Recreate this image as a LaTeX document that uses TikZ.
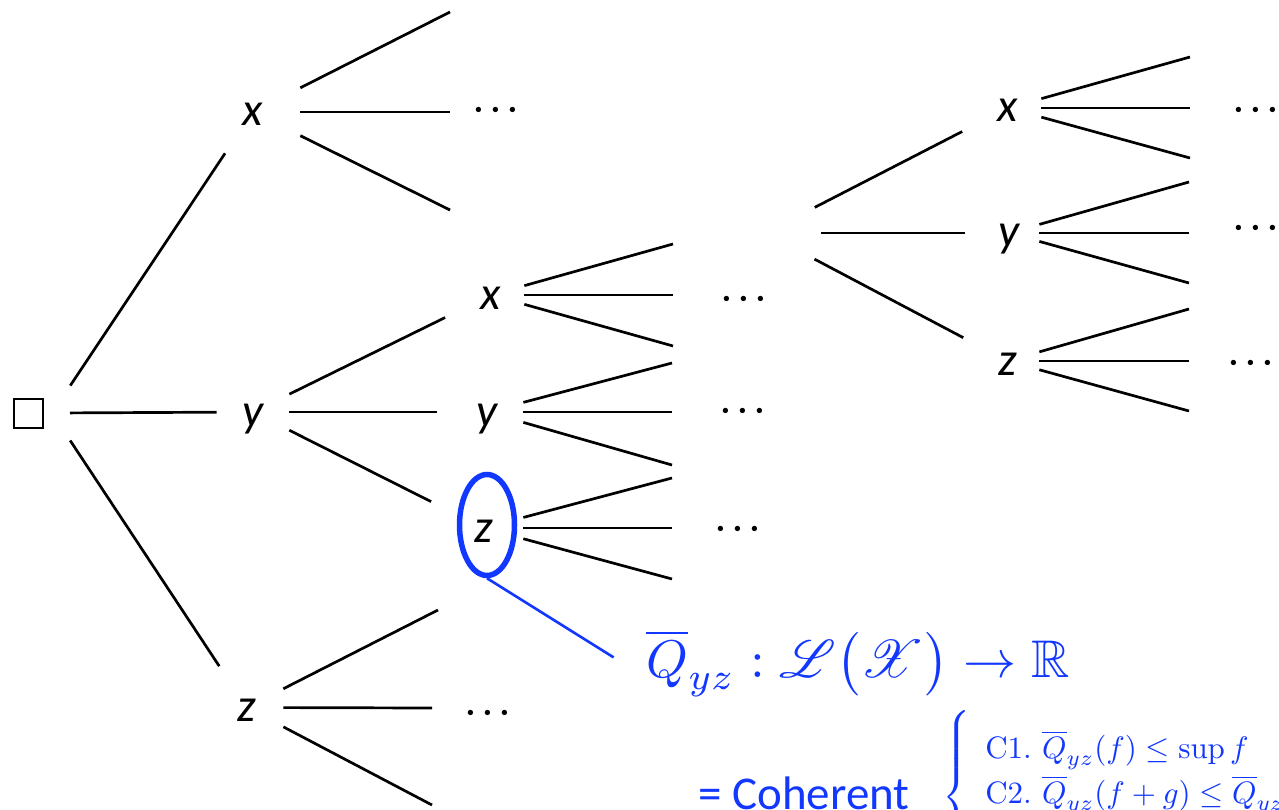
\documentclass[tikz,border=0pt]{standalone}
\usepackage{fontspec}
\usepackage{graphicx}
\usepackage{amssymb}
\usepackage{mathrsfs}
\newfontfamily\calibri{Carlito}
\usetikzlibrary{shapes.geometric}
\definecolor{cblue}{HTML}{1238FF}
\tikzset{
  every picture/.style={x=1pt, y=-1pt, line width=2.7pt},
  lab/.style={font=\fontsize{47}{50}\selectfont\calibri\itshape, inner sep=0pt,
    minimum width=#1, minimum height=80pt, text height=28pt, text depth=0pt},
  lab/.default=70pt,
  etc/.style={inner sep=0pt, text height=18pt, text depth=0pt},
  edge/.style={draw=black},
  into/.style={edge, shorten >=14pt},
  ring/.style={draw=cblue, ellipse, line width=5.5pt, minimum width=55pt, minimum height=101pt, inner sep=0pt},
  callout/.style={draw=cblue, line width=2.6pt},
  formula/.style={text=cblue, inner sep=0pt},
}

\begin{document}
\begin{tikzpicture}
  \useasboundingbox (0,0) rectangle (1279,810);
  \fill[white] (0,0) rectangle (1279,810);
  \clip (0,0) rectangle (1279,810);

  % decision tree
  \node[draw, line width=2pt, minimum size=29pt, inner sep=0pt, outer xsep=9pt] (root) at (28.5,413) {};
  \node[lab=93pt] (x1) at (252.5,112) {x};
  \node[lab=70pt] (y1) at (253,412) {y};
  \node[lab=71pt] (z1) at (246.5,707.5) {z};
  \node[lab=64pt] (x2) at (491,295) {x};
  \node[lab=70pt] (y2) at (487,412) {y};
  \node[lab=77pt] (z2) at (483.5,528) {z};
  \coordinate (hub) at (765,233);
  \node[lab=64pt] (x3) at (1008,108) {x};
  \node[lab=58pt] (y3) at (1009,233) {y};
  \node[lab=61pt] (z3) at (1007.5,361) {z};

  \foreach \c/\s in {x1/33, y1/18, z1/33}
    \draw[edge, shorten <=\s pt] (root.east) -- (\c);
  \foreach \c in {x2, y2, z2}
    \draw[into] (y1) -- (\c);
  \foreach \c in {x3, y3, z3}
    \draw[into, shorten <=56pt] (hub) -- (\c);

  % open branches
  \foreach \n/\x/\y in {x1a/450/12, x1b/450/112, x1c/450/210,
      z1a/438/610, z1b/432/708, z1c/432/805,
      x2a/673/244, x2b/673/295, x2c/673/346,
      y2a/672/363, y2b/672/412, y2c/672/465,
      z2a/672/478, z2b/672/528, z2c/672/579,
      x3a/1190/57, x3b/1190/108, x3c/1190/158,
      y3a/1189/182, y3b/1189/233, y3c/1189/283,
      z3a/1189/309, z3b/1189/361, z3c/1189/411}
    \coordinate (\n) at (\x,\y);
  \foreach \n in {x1, z1, x2, y2, z2, x3, y3, z3}
    \foreach \k in {a, b, c}
      \draw[edge] (\n) -- (\n\k);

  \foreach \n/\x/\y in {x1/496/110, z1/488/712, x2/744/298, y2/743/410,
      z2/738/528, x3/1256/110, y3/1256/228, z3/1251/362}
    \node[etc] (more-\n) at (\x,\y) {\scalebox{3.4}{\boldmath$\cdots$}};

  % coherent lower prevision at node z
  \node[ring] (zring) at ([xshift=3.5pt, yshift=3pt]z2) {};
  \node[formula, anchor=base west] (qmap) at (645,677)
    {\scalebox{5.3}{$\overline{Q}_{yz}:\mathscr{L}\bigl(\mathscr{X}\bigr)\to\mathbb{R}$}};
  \draw[callout, shorten >=37pt] (zring.south) -- (qmap.base west);
  \node[formula, anchor=base west, font=\fontsize{47}{50}\selectfont\calibri] (coherent) at (697,809) {= Coherent};
  \node[formula] (brace) at (959,797)
    {\scalebox{3.2}{$\left\{\vcenter{\hrule height 28pt depth 28pt width 0pt}\right.$}};
  \node[formula, anchor=base west] (cond1) at (984,758)
    {\scalebox{3.1}{C1.\ $\overline{Q}_{yz}(f)\le\sup f$}};
  \node[formula, anchor=base west] (cond2) at (984,803)
    {\scalebox{3.1}{C2.\ $\overline{Q}_{yz}(f+g)\le\overline{Q}_{yz}(f)+\overline{Q}_{yz}(g)$}};
\end{tikzpicture}
\end{document}
